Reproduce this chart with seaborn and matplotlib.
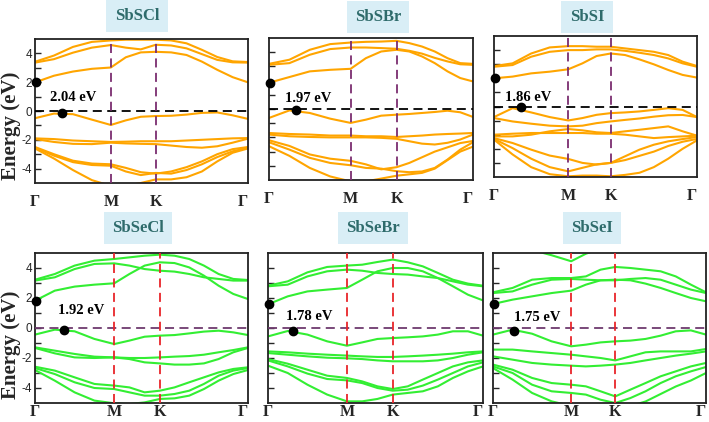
import numpy as np
import pandas as pd
import matplotlib
matplotlib.use("Agg")
import matplotlib.pyplot as plt
import seaborn as sns

# ---------------- data ----------------
names = ["SbSCl", "SbSBr", "SbSI", "SbSeCl", "SbSeBr", "SbSeI"]
gap_labels = ["2.04 eV", "1.97 eV", "1.86 eV", "1.92 eV", "1.78 eV", "1.75 eV"]
high_sym_labels = ["\u0393", "M", "K", "\u0393"]
m_pos = [0.356, 0.400, 0.366, 0.372, 0.367, 0.367]
k_pos = [0.567, 0.625, 0.575, 0.586, 0.580, 0.574]
cbm_E = [1.99, 1.85, 2.00, 1.82, 1.58, 1.60]
vbm_k = [0.125, 0.132, 0.133, 0.135, 0.114, 0.098]
vbm_E = [-0.15, -0.05, -0.07, -0.13, -0.18, -0.18]
gap_text_x = [0.07, 0.078, 0.054, 0.109, 0.082, 0.10]
gap_text_y = [0.91, 0.73, 0.66, 1.20, 0.78, 0.73]

# band energies sampled at: Gamma, 3 pts, M, 2 pts, K, 5 pts, Gamma (14 samples)
bands_sbscl = [
    [1.99, 2.45, 2.74, 2.93, 3.02, 3.73, 4.07, 4.11, 4.07, 3.89, 3.43, 2.86, 2.35, 1.99],
    [3.36, 3.60, 4.05, 4.40, 4.58, 4.40, 4.28, 4.60, 4.55, 4.35, 3.95, 3.55, 3.38, 3.36],
    [3.42, 3.85, 4.45, 4.80, 4.90, 4.95, 4.95, 4.95, 4.90, 4.70, 4.25, 3.75, 3.45, 3.40],
    [-0.50, -0.18, -0.22, -0.60, -0.97, -0.65, -0.40, -0.35, -0.33, -0.25, -0.13, -0.10, -0.30, -0.55],
    [-1.90, -1.95, -2.05, -2.10, -2.15, -2.13, -2.10, -2.10, -2.10, -2.05, -2.00, -1.95, -1.90, -1.88],
    [-1.95, -2.15, -2.28, -2.30, -2.20, -2.25, -2.28, -2.30, -2.40, -2.50, -2.55, -2.45, -2.20, -1.92],
    [-2.50, -3.00, -3.45, -3.65, -3.70, -3.95, -4.25, -4.35, -4.20, -3.90, -3.50, -3.00, -2.65, -2.50],
    [-2.55, -3.10, -3.55, -3.75, -3.80, -4.20, -4.45, -4.30, -4.35, -4.10, -3.70, -3.20, -2.80, -2.55],
    [-2.60, -3.30, -4.10, -4.80, -5.20, -5.20, -5.00, -4.75, -4.75, -4.60, -4.20, -3.50, -2.90, -2.60],
]
bands_sbsbr = [
    [1.85, 2.25, 2.65, 2.76, 2.83, 3.58, 4.05, 4.17, 4.05, 3.70, 3.23, 2.65, 2.18, 1.94],
    [3.11, 3.23, 3.82, 4.22, 4.33, 4.33, 4.29, 4.24, 4.10, 3.90, 3.60, 3.35, 3.15, 3.11],
    [3.18, 3.47, 4.17, 4.57, 4.68, 4.73, 4.75, 4.80, 4.64, 4.40, 4.05, 3.58, 3.23, 3.18],
    [-0.63, -0.10, -0.28, -0.68, -0.98, -0.75, -0.47, -0.40, -0.35, -0.28, -0.21, -0.12, -0.23, -0.56],
    [-1.69, -1.76, -1.80, -1.87, -1.87, -1.92, -1.92, -1.97, -1.92, -1.87, -1.80, -1.76, -1.73, -1.69],
    [-1.80, -1.92, -1.97, -2.00, -2.00, -2.00, -2.03, -2.10, -2.27, -2.44, -2.50, -2.38, -2.15, -1.80],
    [-2.20, -2.60, -3.20, -3.50, -3.65, -3.90, -4.25, -4.10, -3.80, -3.40, -3.00, -2.70, -2.40, -2.25],
    [-2.34, -2.86, -3.44, -3.80, -3.96, -4.15, -4.20, -4.38, -4.45, -4.40, -4.15, -3.56, -2.86, -2.34],
    [-2.62, -3.30, -4.15, -4.75, -5.10, -5.10, -4.90, -4.70, -4.60, -4.50, -4.20, -3.60, -3.00, -2.65],
]
bands_sbsi = [
    [2.00, 2.12, 2.35, 2.47, 2.64, 3.06, 3.58, 3.76, 3.65, 3.34, 2.99, 2.59, 2.24, 2.05],
    [2.82, 2.94, 3.53, 3.88, 4.00, 4.00, 4.05, 4.05, 3.95, 3.81, 3.65, 3.41, 3.06, 2.82],
    [2.87, 3.06, 3.76, 4.19, 4.28, 4.28, 4.24, 4.24, 4.12, 4.00, 3.88, 3.65, 3.18, 2.87],
    [-0.75, -0.12, -0.42, -0.75, -0.99, -0.82, -0.59, -0.47, -0.42, -0.35, -0.24, -0.12, -0.24, -0.75],
    [-0.82, -1.06, -1.22, -1.36, -1.41, -1.36, -1.18, -1.06, -0.95, -0.85, -0.72, -0.62, -0.60, -0.75],
    [-2.00, -1.93, -1.88, -1.88, -1.88, -1.88, -1.93, -1.93, -2.00, -2.12, -2.24, -2.17, -2.12, -2.07],
    [-2.12, -2.12, -2.00, -1.76, -1.60, -1.69, -1.83, -1.88, -1.76, -1.65, -1.53, -1.41, -1.76, -2.07],
    [-2.24, -2.59, -3.06, -3.48, -3.72, -4.00, -4.12, -4.00, -3.53, -3.06, -2.71, -2.47, -2.31, -2.16],
    [-2.30, -2.95, -3.70, -4.30, -4.60, -4.35, -4.10, -4.00, -3.80, -3.50, -3.20, -2.80, -2.50, -2.30],
    [-2.35, -3.40, -4.30, -4.80, -4.95, -4.90, -4.90, -4.95, -4.85, -4.70, -4.30, -3.70, -3.00, -2.40],
]
bands_sbsecl = [
    [1.82, 2.49, 2.76, 2.89, 2.98, 3.60, 4.16, 4.38, 4.33, 4.04, 3.49, 2.82, 2.27, 1.93],
    [3.16, 3.38, 3.93, 4.27, 4.31, 4.16, 3.93, 3.82, 3.76, 3.60, 3.38, 3.27, 3.16, 3.16],
    [3.22, 3.60, 4.16, 4.49, 4.60, 4.71, 4.82, 4.89, 4.82, 4.60, 4.16, 3.60, 3.27, 3.20],
    [-0.44, -0.11, -0.22, -0.73, -1.07, -0.84, -0.58, -0.51, -0.47, -0.36, -0.24, -0.18, -0.29, -0.47],
    [-1.29, -1.51, -1.73, -1.91, -1.96, -2.00, -2.00, -1.96, -1.91, -1.87, -1.78, -1.62, -1.47, -1.29],
    [-1.33, -1.69, -1.96, -2.00, -1.96, -2.07, -2.29, -2.36, -2.44, -2.44, -2.36, -2.07, -1.62, -1.33],
    [-2.58, -2.84, -3.29, -3.73, -3.84, -3.96, -4.29, -4.18, -3.96, -3.62, -3.29, -2.96, -2.73, -2.62],
    [-2.67, -3.07, -3.62, -4.00, -4.07, -4.29, -4.51, -4.51, -4.40, -4.18, -3.73, -3.18, -2.84, -2.67],
    [-2.80, -3.51, -4.29, -4.84, -5.02, -5.07, -4.96, -4.73, -4.69, -4.51, -4.07, -3.51, -3.07, -2.80],
]
bands_sbsebr = [
    [1.58, 2.11, 2.44, 2.56, 2.67, 3.22, 3.78, 4.00, 4.00, 3.78, 3.33, 2.78, 2.22, 1.84],
    [2.78, 2.89, 3.44, 3.78, 3.89, 3.82, 3.67, 3.60, 3.56, 3.44, 3.33, 3.11, 2.89, 2.78],
    [2.82, 3.11, 3.71, 4.07, 4.16, 4.22, 4.40, 4.56, 4.38, 4.11, 3.67, 3.22, 2.96, 2.82],
    [-0.56, -0.20, -0.44, -0.89, -1.18, -0.96, -0.73, -0.67, -0.62, -0.56, -0.44, -0.22, -0.22, -0.51],
    [-1.56, -1.62, -1.71, -1.78, -1.84, -1.89, -1.93, -1.93, -1.89, -1.84, -1.78, -1.71, -1.62, -1.56],
    [-1.67, -1.78, -1.89, -1.98, -2.02, -2.07, -2.16, -2.22, -2.22, -2.22, -2.16, -2.00, -1.78, -1.62],
    [-2.07, -2.38, -2.78, -3.18, -3.33, -3.56, -3.89, -4.07, -3.89, -3.44, -3.00, -2.56, -2.29, -2.16],
    [-2.16, -2.56, -3.04, -3.40, -3.49, -3.67, -4.00, -4.18, -4.11, -3.84, -3.44, -3.00, -2.56, -2.29],
    [-2.51, -3.00, -3.78, -4.44, -4.89, -4.89, -4.73, -4.44, -4.33, -4.22, -3.89, -3.33, -2.89, -2.56],
]
bands_sbsei = [
    [1.60, 1.89, 2.11, 2.33, 2.49, 2.89, 3.18, 3.22, 3.18, 2.96, 2.67, 2.33, 2.00, 1.78],
    [2.33, 2.44, 2.89, 3.22, 3.27, 3.22, 3.18, 3.18, 3.27, 3.33, 3.22, 2.89, 2.56, 2.33],
    [2.38, 2.67, 3.22, 3.33, 3.33, 3.44, 3.89, 4.07, 4.00, 3.89, 3.78, 3.44, 2.89, 2.38],
    [5.60, 5.50, 5.20, 4.85, 4.45, 4.95, 5.30, 5.50, 5.50, 5.50, 5.50, 5.50, 5.50, 5.50],
    [-0.44, -0.11, -0.38, -0.89, -1.22, -1.11, -0.96, -0.89, -0.84, -0.73, -0.51, -0.22, -0.16, -0.44],
    [-1.44, -1.44, -1.56, -1.67, -1.78, -1.89, -2.00, -2.16, -1.89, -1.62, -1.56, -1.56, -1.56, -1.40],
    [-1.89, -2.11, -2.33, -2.44, -2.51, -2.56, -2.51, -2.44, -2.33, -2.16, -2.00, -1.84, -1.71, -1.56],
    [-2.44, -2.78, -3.33, -3.67, -3.78, -3.89, -4.22, -4.56, -4.11, -3.67, -3.22, -2.89, -2.56, -2.33],
    [-2.56, -3.00, -3.78, -4.22, -4.33, -4.44, -4.78, -5.00, -4.67, -4.22, -3.67, -3.22, -2.89, -2.60],
    [-2.67, -3.44, -4.33, -4.89, -5.20, -5.30, -5.30, -5.30, -5.20, -4.90, -4.40, -3.90, -3.50, -3.00],
]
all_bands = [bands_sbscl, bands_sbsbr, bands_sbsi, bands_sbsecl, bands_sbsebr, bands_sbsei]

# ---------------- style ----------------
sns.set_style("ticks")
plt.rcParams["font.family"] = ["Liberation Serif", "DejaVu Serif"]

band_colors = ["#FFA500"] * 3 + ["#33EE33"] * 3
vline_colors = ["#7B2D70"] * 3 + ["#E8252A"] * 3
hline_colors = ["#000000"] * 3 + ["#6E3A6E"] * 3
title_fc = "#D9EEF6"
title_tc = "#2E6B6B"

W, H = 709, 422
fig = plt.figure(figsize=(W / 100, H / 100), dpi=100)

# axes boxes in pixels: left, top, right, bottom
boxes = [(35, 39, 248, 183), (269, 38, 473, 180), (494, 36, 697, 177),
         (35, 253, 248, 403), (268, 253, 483, 403), (493, 253, 706, 403)]
title_xy = [(137, 16), (378, 17), (587, 17), (138, 228), (373, 228), (592, 228)]
xpads = [8, 8, 8, 1, 1, 1]
ylabel_y = {0: 0.40, 3: 0.39}

for i in range(6):
    l, t, r, b = boxes[i]
    ax = fig.add_axes([l / W, 1 - b / H, (r - l) / W, (b - t) / H])
    M, K = m_pos[i], k_pos[i]
    kk = np.concatenate([np.linspace(0, M, 5), np.linspace(M, K, 4)[1:], np.linspace(K, 1, 7)[1:]])
    rows = []
    for j, band in enumerate(all_bands[i]):
        for kv, ev in zip(kk, band):
            rows.append({"k": kv, "E": ev, "band": j})
    df = pd.DataFrame(rows)
    sns.lineplot(data=df, x="k", y="E", units="band", estimator=None, color=band_colors[i],
                 lw=1.5, ax=ax, sort=False, legend=False)
    ax.axhline(0, color=hline_colors[i], ls=(0, (5, 3)), lw=1.3, zorder=3)
    for xv in (M, K):
        ax.axvline(xv, color=vline_colors[i], ls=(0, (5, 3)), lw=1.3, zorder=3)
    ax.plot([0.006], [cbm_E[i]], "o", color="black", ms=6, clip_on=False, zorder=5)
    ax.plot([vbm_k[i]], [vbm_E[i]], "o", color="black", ms=6, zorder=5)
    ax.text(gap_text_x[i], gap_text_y[i], gap_labels[i], fontsize=10.5, fontweight="bold",
            ha="left", va="center", color="black", zorder=6)
    ax.set_xlim(0, 1)
    ax.set_ylim(-5, 5)
    ax.set_xticks([0, M, K, 1])
    ax.set_xticklabels(high_sym_labels, fontsize=11.5, fontweight="bold")
    ax.get_xticklabels()[-1].set_ha("right")
    ax.tick_params(axis="x", length=0, pad=xpads[i])
    ax.set_yticks(np.arange(-4, 5, 1))
    if i in (0, 3):
        ax.set_yticklabels(["-4", "", "-2", "", "0", "", "2", "", "4"],
                           fontsize=8.5, family="Liberation Sans")
        ax.set_ylabel("Energy (eV)", fontsize=15, fontweight="bold")
        ax.yaxis.set_label_coords(-0.065, ylabel_y[i])
    else:
        ax.set_yticklabels([""] * 9)
        ax.set_ylabel("")
    ax.tick_params(axis="y", direction="in", length=4, width=1, pad=2)
    ax.set_xlabel("")
    for s in ax.spines.values():
        s.set_visible(True)
        s.set_linewidth(1.3)
        s.set_color("#222222")
    fig.text(title_xy[i][0] / W, 1 - title_xy[i][1] / H, names[i], ha="center", va="center",
             fontsize=12, fontweight="bold", color=title_tc,
             bbox=dict(boxstyle="square,pad=0.5", fc=title_fc, ec="none"))

fig.savefig("out.png", dpi=100)
